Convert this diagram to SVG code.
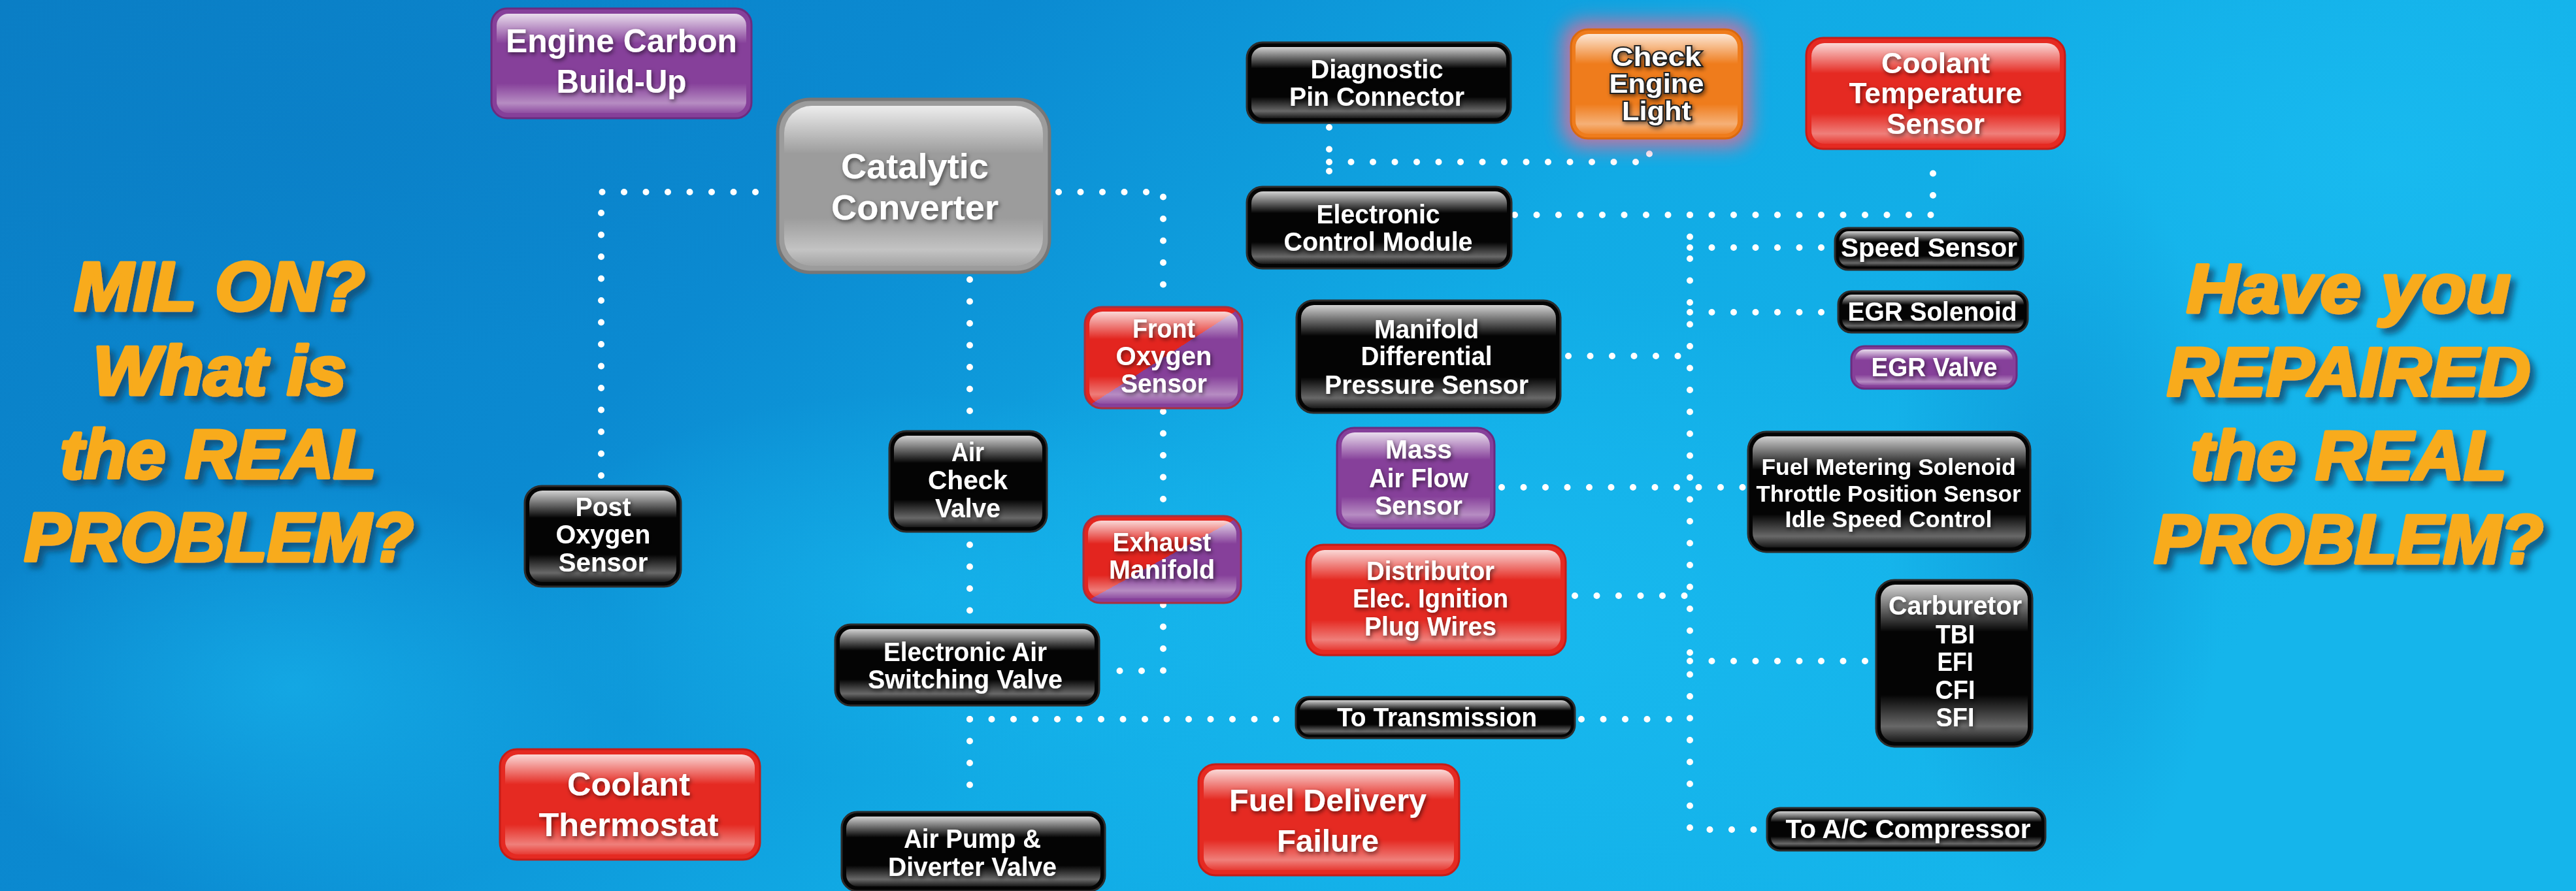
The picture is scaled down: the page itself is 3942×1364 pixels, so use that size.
<svg xmlns="http://www.w3.org/2000/svg" width="3942" height="1364" viewBox="0 0 3942 1364">
<defs>
<linearGradient id="bgBase" x1="0" y1="0" x2="1" y2="0.35">
<stop offset="0" stop-color="#0a7ec5"/>
<stop offset="0.35" stop-color="#0b8ad1"/>
<stop offset="0.62" stop-color="#11abe5"/>
<stop offset="1" stop-color="#15b5eb"/>
</linearGradient>
<radialGradient id="cloud" cx="0.5" cy="0.5" r="0.5">
<stop offset="0" stop-color="#19bbf0" stop-opacity="0.85"/>
<stop offset="1" stop-color="#19bbf0" stop-opacity="0"/>
</radialGradient>
<radialGradient id="darkc" cx="0.5" cy="0.5" r="0.5">
<stop offset="0" stop-color="#0a7cc4" stop-opacity="0.7"/>
<stop offset="1" stop-color="#0a7cc4" stop-opacity="0"/>
</radialGradient>
<linearGradient id="gloss" x1="0" y1="0" x2="0" y2="1">
<stop offset="0" stop-color="#fff" stop-opacity="0.82"/>
<stop offset="0.3" stop-color="#fff" stop-opacity="0"/>
<stop offset="0.7" stop-color="#fff" stop-opacity="0"/>
<stop offset="0.9" stop-color="#fff" stop-opacity="0.4"/>
<stop offset="1" stop-color="#fff" stop-opacity="0.08"/>
</linearGradient>
<linearGradient id="split" x1="0" y1="0" x2="1" y2="1">
<stop offset="0.5" stop-color="#e3251f"/>
<stop offset="0.5" stop-color="#86409a"/>
</linearGradient>
<filter id="tsh" x="-20%" y="-40%" width="140%" height="180%">
<feDropShadow dx="2" dy="3" stdDeviation="3" flood-color="#000" flood-opacity="0.55"/>
</filter>
<filter id="bsh" x="-10%" y="-20%" width="130%" height="150%">
<feDropShadow dx="8" dy="9" stdDeviation="5" flood-color="#0f4a70" flood-opacity="0.8"/>
</filter>
<filter id="glow" x="-30%" y="-30%" width="160%" height="160%">
<feGaussianBlur stdDeviation="14"/>
</filter>
<style>
.dot{fill:none;stroke:#fff;stroke-width:10;stroke-linecap:round;stroke-dasharray:0 33.5}
.t{font-family:"Liberation Sans",Arial,sans-serif;font-weight:bold;fill:#fff;text-anchor:middle;filter:url(#tsh)}
.big{font-family:"Liberation Sans",Arial,sans-serif;font-weight:bold;font-style:italic;fill:#f8ab1b;stroke:#f8ab1b;stroke-width:5;stroke-linejoin:round;text-anchor:middle;font-size:105px;filter:url(#bsh)}
.gl{fill:url(#gloss)}
.blk{fill:#040404;stroke:#2c2c2c;stroke-width:3}
.red{fill:#e52a22;stroke:#c41d18;stroke-width:3}
.pur{fill:#86409a;stroke:#6a2c80;stroke-width:3}
.ora{fill:#ef7c1c;stroke:#d9690f;stroke-width:3}
.gry{fill:#9c9c9c;stroke:#777;stroke-width:5}
.spl{fill:url(#split);stroke:#a8303e;stroke-width:3}
.f40{font-size:40px}
.f35{font-size:35px}
.f44{font-size:44px}
.f48{font-size:48px}
.f50{font-size:50px}
.f54{font-size:54px}
.out{stroke:#222;stroke-width:4;paint-order:stroke}
</style>
</defs>

<g id="background">
<rect x="0" y="0" width="3942" height="1364" fill="url(#bgBase)"/>
<ellipse cx="2300" cy="950" rx="1000" ry="520" fill="url(#cloud)"/>
<ellipse cx="3650" cy="250" rx="650" ry="420" fill="url(#cloud)"/>
<ellipse cx="450" cy="1050" rx="520" ry="330" fill="url(#cloud)" opacity="0.7"/>
<ellipse cx="1400" cy="900" rx="600" ry="300" fill="url(#cloud)" opacity="0.6"/>
<ellipse cx="3150" cy="800" rx="260" ry="600" fill="url(#darkc)" opacity="0.6"/>
<ellipse cx="500" cy="200" rx="800" ry="350" fill="url(#darkc)" opacity="0.6"/>
</g>

<g id="title-left">
<text class="big" x="336" y="475" textLength="445" lengthAdjust="spacingAndGlyphs">MIL ON?</text>
<text class="big" x="336" y="604" textLength="388" lengthAdjust="spacingAndGlyphs">What is</text>
<text class="big" x="334" y="732" textLength="484" lengthAdjust="spacingAndGlyphs">the REAL</text>
<text class="big" x="335" y="859" textLength="596" lengthAdjust="spacingAndGlyphs">PROBLEM?</text>
</g>
<g id="title-right">
<text class="big" x="3594" y="478" textLength="496" lengthAdjust="spacingAndGlyphs">Have you</text>
<text class="big" x="3594" y="606" textLength="556" lengthAdjust="spacingAndGlyphs">REPAIRED</text>
<text class="big" x="3594" y="734" textLength="484" lengthAdjust="spacingAndGlyphs">the REAL</text>
<text class="big" x="3594" y="862" textLength="596" lengthAdjust="spacingAndGlyphs">PROBLEM?</text>
</g>

<g id="connectors">
<path class="dot" d="M920 728 V294 H1184"/>
<path class="dot" d="M1620 294 H1780 V462"/>
<path class="dot" d="M1780 630 V782"/>
<path class="dot" d="M1780 926 V1027 H1688"/>
<path class="dot" d="M1484 428 V652"/>
<path class="dot" d="M1484 834 V948"/>
<path class="dot" d="M1484 1101 V1234"/>
<path class="dot" d="M1484 1101 H1976"/>
<path class="dot" d="M2420 1101 H2586"/>
<path class="dot" d="M2318 329 H2958 V236"/>
<path class="dot" d="M2034 195 V280"/>
<path class="dot" d="M2034 248 H2524 V216"/>
<path class="dot" d="M2586 329 V1270 H2698"/>
<path class="dot" d="M2586 379 H2800"/>
<path class="dot" d="M2586 478 H2806"/>
<path class="dot" d="M2400 545 H2586"/>
<path class="dot" d="M2298 746 H2668"/>
<path class="dot" d="M2410 912 H2586"/>
<path class="dot" d="M2586 1012 H2864"/>
</g>

<g id="engine-carbon">
<rect class="pur" x="752" y="13" width="398" height="168" rx="24"/>
<rect class="gl" x="760" y="21" width="382" height="152" rx="18"/>
<text class="t f50" x="951" y="80" textLength="354" lengthAdjust="spacingAndGlyphs">Engine Carbon</text>
<text class="t f50" x="951" y="142" textLength="199" lengthAdjust="spacingAndGlyphs">Build-Up</text>
</g>

<g id="catalytic-converter">
<rect class="gry" x="1190" y="152" width="416" height="265" rx="50"/>
<rect class="gl" x="1200" y="162" width="396" height="245" rx="42"/>
<text class="t f54" x="1400" y="273" textLength="226" lengthAdjust="spacingAndGlyphs">Catalytic</text>
<text class="t f54" x="1400" y="336" textLength="256" lengthAdjust="spacingAndGlyphs">Converter</text>
</g>

<g id="diagnostic-pin">
<rect class="blk" x="1908" y="65" width="404" height="123" rx="24"/>
<rect class="gl" x="1915" y="72" width="390" height="109" rx="18"/>
<text class="t f40" x="2107" y="120" textLength="203" lengthAdjust="spacingAndGlyphs">Diagnostic</text>
<text class="t f40" x="2107" y="162" textLength="268" lengthAdjust="spacingAndGlyphs">Pin Connector</text>
</g>

<g id="check-engine-light">
<rect x="2390" y="31" width="290" height="195" rx="34" fill="#cf6f9e" opacity="0.9" filter="url(#glow)"/>
<rect class="ora" x="2404" y="45" width="262" height="167" rx="26"/>
<rect class="gl" x="2411" y="52" width="248" height="153" rx="20"/>
<text class="t f40 out" x="2535" y="101" textLength="137" lengthAdjust="spacingAndGlyphs">Check</text>
<text class="t f40 out" x="2535" y="142" textLength="145" lengthAdjust="spacingAndGlyphs">Engine</text>
<text class="t f40 out" x="2535" y="184" textLength="106" lengthAdjust="spacingAndGlyphs">Light</text>
</g>

<g id="coolant-temperature-sensor">
<rect class="red" x="2764" y="58" width="396" height="170" rx="26"/>
<rect class="gl" x="2772" y="66" width="380" height="154" rx="20"/>
<text class="t f44" x="2962" y="112" textLength="166" lengthAdjust="spacingAndGlyphs">Coolant</text>
<text class="t f44" x="2962" y="158" textLength="265" lengthAdjust="spacingAndGlyphs">Temperature</text>
<text class="t f44" x="2962" y="205" textLength="150" lengthAdjust="spacingAndGlyphs">Sensor</text>
</g>

<g id="electronic-control-module">
<rect class="blk" x="1908" y="286" width="405" height="125" rx="24"/>
<rect class="gl" x="1915" y="293" width="391" height="111" rx="18"/>
<text class="t f40" x="2109" y="342" textLength="189" lengthAdjust="spacingAndGlyphs">Electronic</text>
<text class="t f40" x="2109" y="384" textLength="289" lengthAdjust="spacingAndGlyphs">Control Module</text>
</g>

<g id="front-oxygen-sensor">
<rect class="spl" x="1660" y="470" width="241" height="155" rx="26"/>
<rect class="gl" x="1667" y="477" width="227" height="141" rx="20"/>
<text class="t f40" x="1781" y="517" textLength="96" lengthAdjust="spacingAndGlyphs">Front</text>
<text class="t f40" x="1781" y="559" textLength="147" lengthAdjust="spacingAndGlyphs">Oxygen</text>
<text class="t f40" x="1781" y="601" textLength="132" lengthAdjust="spacingAndGlyphs">Sensor</text>
</g>

<g id="manifold-differential-pressure-sensor">
<rect class="blk" x="1984" y="460" width="404" height="172" rx="26"/>
<rect class="gl" x="1991" y="467" width="390" height="158" rx="20"/>
<text class="t f40" x="2183" y="518" textLength="160" lengthAdjust="spacingAndGlyphs">Manifold</text>
<text class="t f40" x="2183" y="559" textLength="201" lengthAdjust="spacingAndGlyphs">Differential</text>
<text class="t f40" x="2183" y="603" textLength="312" lengthAdjust="spacingAndGlyphs">Pressure Sensor</text>
</g>

<g id="speed-sensor">
<rect class="blk" x="2808" y="349" width="288" height="64" rx="20"/>
<rect class="gl" x="2814" y="354" width="276" height="54" rx="15"/>
<text class="t f40" x="2952" y="393" textLength="270" lengthAdjust="spacingAndGlyphs">Speed Sensor</text>
</g>

<g id="egr-solenoid">
<rect class="blk" x="2813" y="446" width="290" height="63" rx="20"/>
<rect class="gl" x="2819" y="451" width="278" height="53" rx="15"/>
<text class="t f40" x="2957" y="491" textLength="259" lengthAdjust="spacingAndGlyphs">EGR Solenoid</text>
</g>

<g id="egr-valve">
<rect class="pur" x="2833" y="530" width="253" height="65" rx="20"/>
<rect class="gl" x="2839" y="535" width="241" height="55" rx="15"/>
<text class="t f40" x="2960" y="576" textLength="193" lengthAdjust="spacingAndGlyphs">EGR Valve</text>
</g>

<g id="mass-air-flow-sensor">
<rect class="pur" x="2046" y="655" width="241" height="154" rx="26"/>
<rect class="gl" x="2053" y="662" width="227" height="140" rx="20"/>
<text class="t f40" x="2171" y="702" textLength="102" lengthAdjust="spacingAndGlyphs">Mass</text>
<text class="t f40" x="2171" y="746" textLength="152" lengthAdjust="spacingAndGlyphs">Air Flow</text>
<text class="t f40" x="2171" y="788" textLength="134" lengthAdjust="spacingAndGlyphs">Sensor</text>
</g>

<g id="air-check-valve">
<rect class="blk" x="1361" y="660" width="241" height="154" rx="26"/>
<rect class="gl" x="1368" y="667" width="227" height="140" rx="20"/>
<text class="t f40" x="1481" y="706" textLength="50" lengthAdjust="spacingAndGlyphs">Air</text>
<text class="t f40" x="1481" y="749" textLength="122" lengthAdjust="spacingAndGlyphs">Check</text>
<text class="t f40" x="1481" y="792" textLength="100" lengthAdjust="spacingAndGlyphs">Valve</text>
</g>

<g id="exhaust-manifold">
<rect class="spl" x="1658" y="790" width="241" height="133" rx="26"/>
<rect class="gl" x="1665" y="797" width="227" height="119" rx="20"/>
<text class="t f40" x="1778" y="844" textLength="151" lengthAdjust="spacingAndGlyphs">Exhaust</text>
<text class="t f40" x="1778" y="886" textLength="162" lengthAdjust="spacingAndGlyphs">Manifold</text>
</g>

<g id="distributor">
<rect class="red" x="1999" y="834" width="397" height="169" rx="26"/>
<rect class="gl" x="2007" y="842" width="381" height="153" rx="20"/>
<text class="t f40" x="2189" y="888" textLength="196" lengthAdjust="spacingAndGlyphs">Distributor</text>
<text class="t f40" x="2189" y="930" textLength="238" lengthAdjust="spacingAndGlyphs">Elec. Ignition</text>
<text class="t f40" x="2189" y="973" textLength="202" lengthAdjust="spacingAndGlyphs">Plug Wires</text>
</g>

<g id="electronic-air-switching-valve">
<rect class="blk" x="1278" y="956" width="404" height="124" rx="24"/>
<rect class="gl" x="1285" y="963" width="390" height="110" rx="18"/>
<text class="t f40" x="1477" y="1012" textLength="250" lengthAdjust="spacingAndGlyphs">Electronic Air</text>
<text class="t f40" x="1477" y="1054" textLength="298" lengthAdjust="spacingAndGlyphs">Switching Valve</text>
</g>

<g id="to-transmission">
<rect class="blk" x="1983" y="1067" width="427" height="63" rx="20"/>
<rect class="gl" x="1989" y="1072" width="415" height="53" rx="15"/>
<text class="t f40" x="2199" y="1112" textLength="306" lengthAdjust="spacingAndGlyphs">To Transmission</text>
</g>

<g id="fuel-delivery-failure">
<rect class="red" x="1834" y="1170" width="399" height="170" rx="26"/>
<rect class="gl" x="1842" y="1178" width="383" height="154" rx="20"/>
<text class="t f48" x="2032" y="1242" textLength="302" lengthAdjust="spacingAndGlyphs">Fuel Delivery</text>
<text class="t f48" x="2032" y="1304" textLength="156" lengthAdjust="spacingAndGlyphs">Failure</text>
</g>

<g id="air-pump-diverter-valve">
<rect class="blk" x="1288" y="1243" width="403" height="121" rx="24"/>
<rect class="gl" x="1295" y="1250" width="389" height="107" rx="18"/>
<text class="t f40" x="1488" y="1298" textLength="210" lengthAdjust="spacingAndGlyphs">Air Pump &amp;</text>
<text class="t f40" x="1488" y="1341" textLength="258" lengthAdjust="spacingAndGlyphs">Diverter Valve</text>
</g>

<g id="post-oxygen-sensor">
<rect class="blk" x="803" y="744" width="239" height="154" rx="26"/>
<rect class="gl" x="810" y="751" width="225" height="140" rx="20"/>
<text class="t f40" x="923" y="790" textLength="85" lengthAdjust="spacingAndGlyphs">Post</text>
<text class="t f40" x="923" y="832" textLength="145" lengthAdjust="spacingAndGlyphs">Oxygen</text>
<text class="t f40" x="923" y="875" textLength="137" lengthAdjust="spacingAndGlyphs">Sensor</text>
</g>

<g id="coolant-thermostat">
<rect class="red" x="765" y="1147" width="398" height="169" rx="26"/>
<rect class="gl" x="773" y="1155" width="382" height="153" rx="20"/>
<text class="t f50" x="962" y="1218" textLength="188" lengthAdjust="spacingAndGlyphs">Coolant</text>
<text class="t f50" x="962" y="1280" textLength="275" lengthAdjust="spacingAndGlyphs">Thermostat</text>
</g>

<g id="fuel-metering-solenoid">
<rect class="blk" x="2675" y="661" width="432" height="184" rx="28"/>
<rect class="gl" x="2682" y="668" width="418" height="170" rx="22"/>
<text class="t f35" x="2890" y="727" textLength="389" lengthAdjust="spacingAndGlyphs">Fuel Metering Solenoid</text>
<text class="t f35" x="2890" y="768" textLength="405" lengthAdjust="spacingAndGlyphs">Throttle Position Sensor</text>
<text class="t f35" x="2890" y="807" textLength="317" lengthAdjust="spacingAndGlyphs">Idle Speed Control</text>
</g>

<g id="carburetor">
<rect class="blk" x="2871" y="888" width="239" height="255" rx="28"/>
<rect class="gl" x="2878" y="895" width="225" height="241" rx="22"/>
<text class="t f40" x="2992" y="941" textLength="204" lengthAdjust="spacingAndGlyphs">Carburetor</text>
<text class="t f40" x="2992" y="985" textLength="60" lengthAdjust="spacingAndGlyphs">TBI</text>
<text class="t f40" x="2992" y="1027" textLength="55" lengthAdjust="spacingAndGlyphs">EFI</text>
<text class="t f40" x="2992" y="1070" textLength="61" lengthAdjust="spacingAndGlyphs">CFI</text>
<text class="t f40" x="2992" y="1112" textLength="59" lengthAdjust="spacingAndGlyphs">SFI</text>
</g>

<g id="to-ac-compressor">
<rect class="blk" x="2704" y="1237" width="426" height="65" rx="20"/>
<rect class="gl" x="2710" y="1242" width="414" height="55" rx="15"/>
<text class="t f40" x="2920" y="1283" textLength="375" lengthAdjust="spacingAndGlyphs">To A/C Compressor</text>
</g>
</svg>
